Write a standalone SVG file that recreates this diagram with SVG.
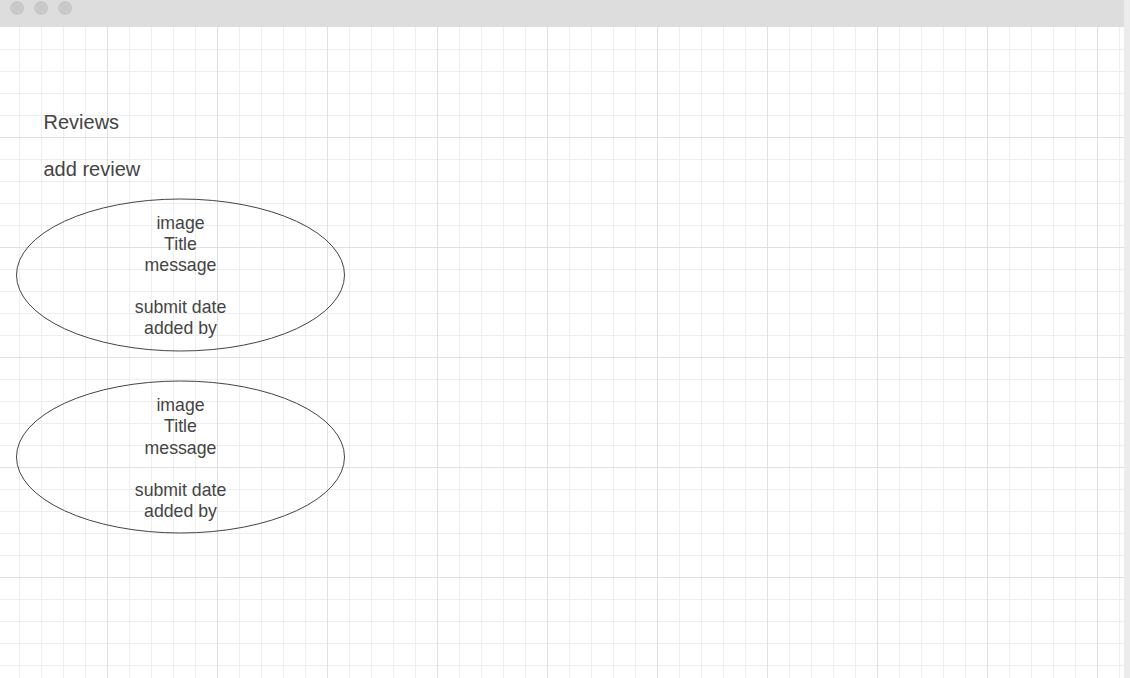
<svg xmlns="http://www.w3.org/2000/svg" width="1130" height="678" viewBox="0 0 1130 678">
<style>
.lbl{font-family:"Liberation Sans",Arial,sans-serif;fill:#444444;}
.big{font-size:20px;}
.in{font-size:17.7px;text-anchor:middle;}
.node ellipse{fill:none;stroke:#444444;stroke-width:1;}
.minor{fill:none;stroke:#eeeeee;stroke-width:1;}
.major{fill:none;stroke:#e0e0e0;stroke-width:1;}
</style>
<rect x="0" y="0" width="1130" height="678" fill="#ffffff"/>
<path class="minor" d="M19.5 27V678M41.5 27V678M63.5 27V678M85.5 27V678M129.5 27V678M151.5 27V678M173.5 27V678M195.5 27V678M239.5 27V678M261.5 27V678M283.5 27V678M305.5 27V678M349.5 27V678M371.5 27V678M393.5 27V678M415.5 27V678M459.5 27V678M481.5 27V678M503.5 27V678M525.5 27V678M569.5 27V678M591.5 27V678M613.5 27V678M635.5 27V678M679.5 27V678M701.5 27V678M723.5 27V678M745.5 27V678M789.5 27V678M811.5 27V678M833.5 27V678M855.5 27V678M899.5 27V678M921.5 27V678M943.5 27V678M965.5 27V678M1009.5 27V678M1031.5 27V678M1053.5 27V678M1075.5 27V678M1119.5 27V678M0 49.5H1124M0 71.5H1124M0 93.5H1124M0 115.5H1124M0 159.5H1124M0 181.5H1124M0 203.5H1124M0 225.5H1124M0 269.5H1124M0 291.5H1124M0 313.5H1124M0 335.5H1124M0 379.5H1124M0 401.5H1124M0 423.5H1124M0 445.5H1124M0 489.5H1124M0 511.5H1124M0 533.5H1124M0 555.5H1124M0 599.5H1124M0 621.5H1124M0 643.5H1124M0 665.5H1124"/>
<path class="major" d="M107.5 27V678M217.5 27V678M327.5 27V678M437.5 27V678M547.5 27V678M657.5 27V678M767.5 27V678M877.5 27V678M987.5 27V678M1097.5 27V678M0 137.5H1124M0 247.5H1124M0 357.5H1124M0 467.5H1124M0 577.5H1124"/>
<rect x="1124" y="0" width="6" height="678" fill="#ececec"/>
<rect x="0" y="0" width="1124" height="27" fill="#dddddd"/>
<g fill="#c9c9c9">
<circle cx="17" cy="8" r="7"/>
<circle cx="41" cy="8" r="7"/>
<circle cx="65" cy="8" r="7"/>
</g>
<g id="title"><text class="lbl big" x="43.5" y="129">Reviews</text></g>
<g id="add-review"><text class="lbl big" x="43.5" y="176">add review</text></g>
<g id="review1" class="node">
<ellipse cx="180.5" cy="275" rx="164" ry="76"/>
<text class="lbl in" x="180.5" y="229">image</text>
<text class="lbl in" x="180.5" y="250">Title</text>
<text class="lbl in" x="180.5" y="271">message</text>
<text class="lbl in" x="180.5" y="313">submit date</text>
<text class="lbl in" x="180.5" y="334">added by</text>
</g>
<g id="review2" class="node">
<ellipse cx="180.5" cy="457" rx="164" ry="76"/>
<text class="lbl in" x="180.5" y="411">image</text>
<text class="lbl in" x="180.5" y="432">Title</text>
<text class="lbl in" x="180.5" y="454">message</text>
<text class="lbl in" x="180.5" y="496">submit date</text>
<text class="lbl in" x="180.5" y="517">added by</text>
</g>
<g id="connectors"></g>
</svg>
